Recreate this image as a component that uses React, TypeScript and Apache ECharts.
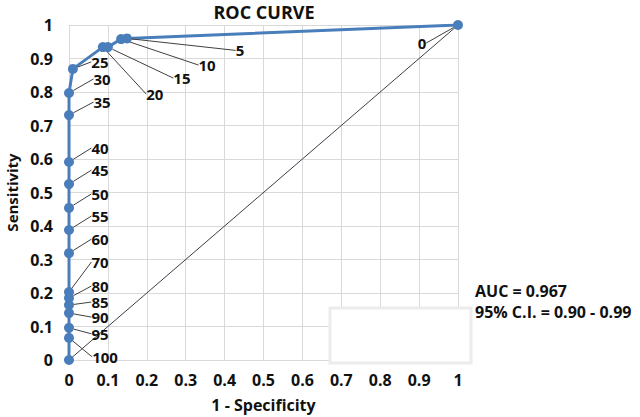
import React, { useEffect, useRef } from "react";
import * as echarts from "echarts";

// Cut-off thresholds (point labels)
const cutoffs = ["0", "5", "10", "15", "20", "25", "30", "35", "40", "45", "50", "55", "60", "70", "80", "85", "90", "95", "100", ""];
// 1 - Specificity
const fpr = [1, 0.149, 0.134, 0.1, 0.087, 0.01, 0, 0, 0, 0, 0, 0, 0, 0, 0, 0, 0, 0, 0, 0];
// Sensitivity
const sens = [1, 0.96, 0.958, 0.934, 0.934, 0.869, 0.797, 0.731, 0.591, 0.525, 0.454, 0.388, 0.319, 0.203, 0.185, 0.164, 0.14, 0.096, 0.066, 0];
// Reference diagonal
const diagX = [0, 1];
const diagY = [0, 1];
const ticks = [0, 0.1, 0.2, 0.3, 0.4, 0.5, 0.6, 0.7, 0.8, 0.9, 1];
const aucText = "AUC = 0.967";
const ciText = "95% C.I. = 0.90 - 0.99";

// label offsets (style)
const labelOffsets: [number, number][] = [
  [-36, 18], [113, 12], [86, 26], [74, 31], [52, 47], [27, -7], [33, -14], [33, -13],
  [31, -14], [31, -14], [31, -14], [31, -14], [31, -14], [31, -30], [31, -12], [31, -3],
  [31, 4], [31, 6], [36, 19], [0, 0],
];

const FONT = "'Open Sans', Lato, 'Liberation Sans', sans-serif";
const BLUE = "#4a7ebb";

export default function App() {
  const ref = useRef<HTMLDivElement>(null);
  useEffect(() => {
    document.body.style.margin = "0";
    const chart = echarts.init(ref.current!, null, { renderer: "svg" });
    const fmt = (v: number) => {
      const r = Math.round(v * 10) / 10;
      return ticks.some((t) => Math.abs(t - r) < 1e-9) ? String(r) : "";
    };
    chart.setOption({
      animation: false,
      backgroundColor: "#ffffff",
      textStyle: { fontFamily: FONT },
      grid: { left: 69, top: 25, width: 389, height: 335, containLabel: false, outerBoundsMode: "none" },
      xAxis: {
        type: "value",
        min: 0,
        max: 1,
        interval: 0.1,
        name: "1 - Specificity",
        nameLocation: "middle",
        nameGap: 37,
        nameTextStyle: { fontFamily: FONT, fontWeight: "bold", fontSize: 16, color: "#111" },
        axisLine: { show: false },
        axisTick: { show: false },
        axisLabel: { formatter: fmt, fontFamily: FONT, fontWeight: "bold", fontSize: 16, color: "#111", margin: 12 },
        splitLine: { show: true, lineStyle: { color: "#d9d9d9", width: 1 } },
      },
      yAxis: {
        type: "value",
        min: 0,
        max: 1,
        interval: 0.1,
        name: "Sensitivity",
        nameLocation: "middle",
        nameGap: 50,
        nameTextStyle: { fontFamily: FONT, fontWeight: "bold", fontSize: 15, color: "#111" },
        axisLine: { show: false },
        axisTick: { show: false },
        axisLabel: { formatter: fmt, fontFamily: FONT, fontWeight: "bold", fontSize: 16, color: "#111", margin: 16 },
        splitLine: { show: true, lineStyle: { color: "#d9d9d9", width: 1 } },
      },
      series: [
        {
          type: "line",
          data: diagX.map((x, i) => [x, diagY[i]]),
          showSymbol: false,
          symbol: "none",
          lineStyle: { color: "#3a3f4a", width: 1 },
          z: 2,
        },
        {
          type: "line",
          data: fpr.map((x, i) => ({ value: [x, sens[i]], name: cutoffs[i] })),
          symbol: "circle",
          symbolSize: 10,
          itemStyle: { color: BLUE },
          lineStyle: { color: BLUE, width: 3 },
          z: 3,
          label: {
            show: true,
            position: "inside",
            formatter: (p: any) => cutoffs[p.dataIndex],
            fontFamily: FONT,
            fontWeight: "bold",
            fontSize: 15,
            lineHeight: 12,
            color: "#111",
          },
          labelLine: { show: true, lineStyle: { color: "#404040", width: 1 } },
          labelLayout: (p: any) => {
            const o = labelOffsets[p.dataIndex] || [0, 0];
            return { dx: o[0], dy: o[1] };
          },
        },
      ],
      graphic: [
        {
          type: "text",
          x: 264,
          y: 12,
          style: { text: "ROC CURVE", font: `bold 18px ${FONT}`, fill: "#111", align: "center", verticalAlign: "middle" },
        },
        {
          type: "rect",
          shape: { x: 330, y: 308, width: 141, height: 55 },
          style: { fill: "#ffffff", stroke: "#ececec", lineWidth: 3 },
          z: 100,
        },
        {
          type: "text",
          x: 475,
          y: 291,
          style: { text: aucText, font: `bold 16px ${FONT}`, fill: "#111", verticalAlign: "middle" },
          z: 100,
        },
        {
          type: "text",
          x: 475,
          y: 312,
          style: { text: ciText, font: `bold 16px ${FONT}`, fill: "#111", verticalAlign: "middle" },
          z: 100,
        },
      ],
    });
    return () => chart.dispose();
  }, []);
  return <div ref={ref} style={{ width: 640, height: 417 }} />;
}
